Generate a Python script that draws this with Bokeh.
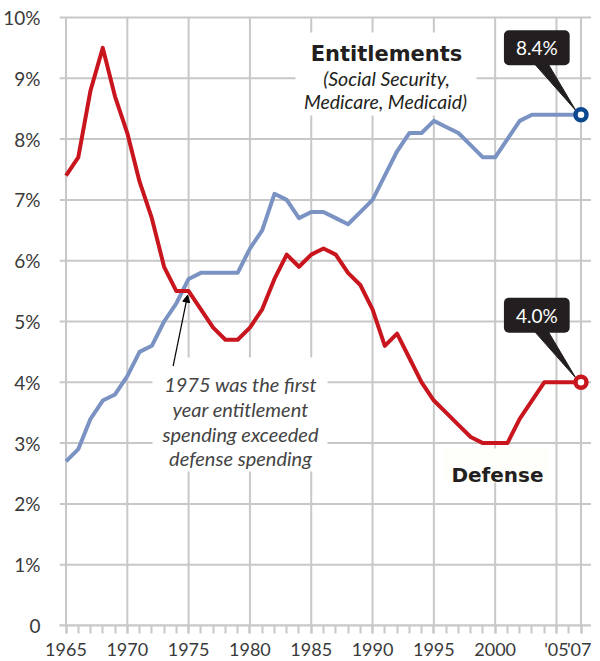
from bokeh.plotting import figure
from bokeh.models import FixedTicker, Label, Arrow, NormalHead
from bokeh.embed import file_html
from bokeh.resources import INLINE
from bokeh.core.properties import value

# ---------------- data ----------------
years = list(range(1965, 2008))
entitlements = [2.7, 2.9, 3.4, 3.7, 3.8, 4.1, 4.5, 4.6, 5.0, 5.3,
                5.7, 5.8, 5.8, 5.8, 5.8, 6.2, 6.5, 7.1, 7.0, 6.7,
                6.8, 6.8, 6.7, 6.6, 6.8, 7.0, 7.4, 7.8, 8.1, 8.1,
                8.3, 8.2, 8.1, 7.9, 7.7, 7.7, 8.0, 8.3, 8.4, 8.4,
                8.4, 8.4, 8.4]
defense = [7.4, 7.7, 8.8, 9.5, 8.7, 8.1, 7.3, 6.7, 5.9, 5.5,
           5.5, 5.2, 4.9, 4.7, 4.7, 4.9, 5.2, 5.7, 6.1, 5.9,
           6.1, 6.2, 6.1, 5.8, 5.6, 5.2, 4.6, 4.8, 4.4, 4.0,
           3.7, 3.5, 3.3, 3.1, 3.0, 3.0, 3.0, 3.4, 3.7, 4.0,
           4.0, 4.0, 4.0]
x_ticks = [1965, 1970, 1975, 1980, 1985, 1990, 1995, 2000, 2005, 2007]
x_tick_labels = ["1965", "1970", "1975", "1980", "1985", "1990", "1995",
                 "2000", "'05", "'07"]
y_ticks = [0, 1, 2, 3, 4, 5, 6, 7, 8, 9, 10]
y_tick_labels = ["0", "1%", "2%", "3%", "4%", "5%", "6%", "7%", "8%", "9%", "10%"]

# ---------------- layout (page pixels) ----------------
PX_L, PX_R, PX_T, PX_B = 60, 592, 10, 625       # frame edges on page
X_FIRST_PX, X_LAST_PX = 66.5, 581.5            # 1965 and 2007
Y_TOP_PX = 17                                  # 10% line
sx = (X_LAST_PX - X_FIRST_PX) / (x_ticks[-1] - x_ticks[0])
sy = (PX_B - Y_TOP_PX) / (y_ticks[-1] - y_ticks[0])
x_start = x_ticks[0] - (X_FIRST_PX - PX_L) / sx
x_end = x_ticks[-1] + (PX_R - X_LAST_PX) / sx
y_end = (PX_B - PX_T) / sy


def dx(px):
    return x_start + (px - PX_L) / sx


def dy(py):
    return (PX_B - py) / sy


GRID = "#c8c8c8"
RED = "#c8151e"
BLUE = "#7b93c3"
DARKBLUE = "#0b4a8e"
INK = "#231f20"

p = figure(frame_width=PX_R - PX_L, frame_height=PX_B - PX_T,
           x_range=(x_start, x_end), y_range=(0, y_end),
           output_backend="svg", toolbar_location=None,
           min_border_left=PX_L - 8, min_border_right=600 - 8 - PX_R,
           min_border_top=PX_T, min_border_bottom=20)
p.outline_line_color = None
p.background_fill_color = "white"
p.border_fill_color = "white"
p.xgrid.visible = False
p.ygrid.visible = False

# axes
p.yaxis.ticker = FixedTicker(ticks=y_ticks)
p.yaxis.major_label_overrides = {t: l for t, l in zip(y_ticks, y_tick_labels)}
p.yaxis.axis_line_color = None
p.yaxis.major_tick_line_color = None
p.yaxis.minor_tick_line_color = None
p.yaxis.major_label_standoff = 13
p.yaxis.major_label_text_font = "Lato"
p.yaxis.major_label_text_font_size = "19px"
p.yaxis.major_label_text_color = "#3a3a3a"

p.xaxis.ticker = FixedTicker(ticks=x_ticks, minor_ticks=years)
p.xaxis.major_label_overrides = {t: l for t, l in zip(x_ticks, x_tick_labels)}
p.xaxis.axis_line_color = GRID
p.xaxis.axis_line_width = 2
p.xaxis.major_tick_line_color = GRID
p.xaxis.minor_tick_line_color = GRID
p.xaxis.major_tick_line_width = 2
p.xaxis.minor_tick_line_width = 2
p.xaxis.major_tick_in = 0
p.xaxis.minor_tick_in = 0
p.xaxis.major_tick_out = 8
p.xaxis.minor_tick_out = 8
p.xaxis.major_label_standoff = 4
p.xaxis.major_label_text_font = "Lato"
p.xaxis.major_label_text_font_size = "18px"
p.xaxis.major_label_text_color = "#3a3a3a"

# grid lines
p.segment(x0=[x_start] * len(y_ticks), x1=[x_end] * len(y_ticks), y0=y_ticks, y1=y_ticks,
          line_color=GRID, line_width=2)
p.segment(x0=x_ticks, x1=x_ticks, y0=[y_ticks[0]] * len(x_ticks), y1=[y_ticks[-1]] * len(x_ticks),
          line_color=GRID, line_width=2)

# white boxes behind labels (break the grid)
p.quad(left=[dx(296), dx(153)], right=[dx(477), dx(328)],
       top=[dy(32), dy(357)], bottom=[dy(115), dy(471)],
       fill_color="white", line_color=None)
p.quad(left=[dx(445)], right=[dx(548)], top=[dy(448)], bottom=[dy(482)],
       fill_color="#fefefa", line_color=None)

# data lines
p.line(years, entitlements, line_color=BLUE, line_width=4, line_join="round")
p.line(years, defense, line_color=RED, line_width=4, line_join="round")

# callouts
for series, ring in ((entitlements, DARKBLUE), (defense, RED)):
    xe, ye = years[-1], series[-1]
    p.patch([xe - 47.5 / sx, xe - 33.5 / sx, xe - 5 / sx],
            [ye + 52 / sy, ye + 52 / sy, ye + 4 / sy],
            fill_color=INK, line_color=INK, line_width=1)
    p.scatter([xe], [ye], size=11, marker="circle", fill_color="white",
              line_color=ring, line_width=4.5)
    lab = Label(x=xe, y=ye, x_offset=-44.2, y_offset=67, text=f"{ye:.1f}%",
                text_align="center", text_baseline="middle",
                text_font="Lato", text_font_size="19px", text_color="white",
                background_fill_color=INK, border_radius=5, padding=(12, 6))
    p.add_layout(lab)

# text labels
p.text(x=[dx(387)], y=[dy(53)], text=["Entitlements"], text_font=value("DejaVu Sans"),
       text_font_style="bold", text_font_size="21px", text_color=INK,
       text_align="center", text_baseline="alphabetic")
p.text(x=[dx(387), dx(386)], y=[dy(77.5), dy(100.5)],
       text=["(Social Security,", "Medicare, Medicaid)"], text_font=value("Lato"),
       text_font_style="italic", text_font_size="19.5px", text_color=INK,
       text_align="center", text_baseline="alphabetic")
p.text(x=[dx(498)], y=[dy(474)], text=["Defense"], text_font=value("DejaVu Sans"),
       text_font_style="bold", text_font_size="20px", text_color=INK,
       text_align="center", text_baseline="alphabetic")
note = ["1975 was the first", "year entitlement", "spending exceeded", "defense spending"]
p.text(x=[dx(241)] * 4, y=[dy(383), dy(408), dy(433), dy(457.5)], text=note,
       text_font=value("Lato"), text_font_style="italic", text_font_size="20px",
       text_color="#444444", text_align="center", text_baseline="alphabetic")

cross_year = years[10]
cross_val = defense[10]
p.add_layout(Arrow(end=NormalHead(size=7, fill_color="black", line_color="black"),
                   x_start=cross_year - 15.5 / sx, y_start=cross_val - 75 / sy,
                   x_end=cross_year - 1 / sx, y_end=cross_val - 4 / sy,
                   line_color="black", line_width=1.2))

open("out.html", "w").write(file_html(p, INLINE))
